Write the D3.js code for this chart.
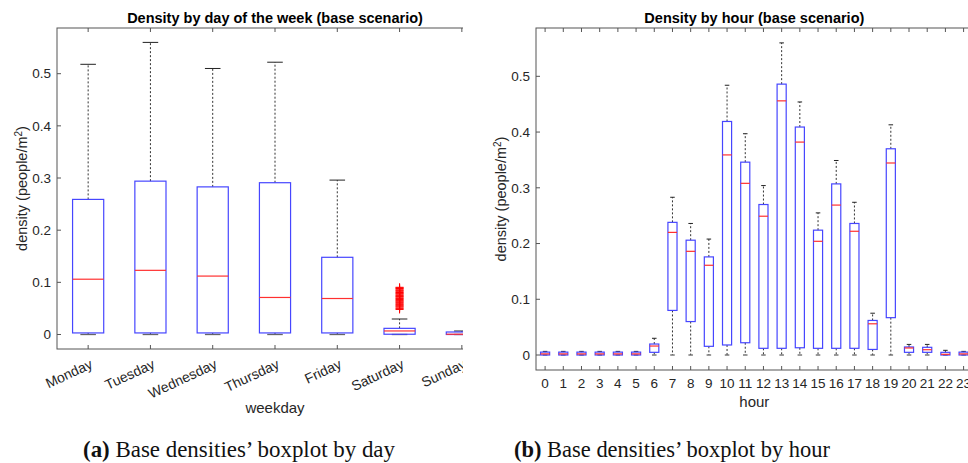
<!DOCTYPE html>
<html>
<head>
<script src="https://cdn.jsdelivr.net/npm/d3@7/dist/d3.min.js"></script>
<style>
    body{margin:0;background:#fff;}
    svg{display:block;font-family:"Liberation Sans",Arial,sans-serif;}
</style>
</head>
<body>
<div id="chart"></div>
<script>

// day of the week boxplot
var days = ["Monday","Tuesday","Wednesday","Thursday","Friday","Saturday","Sunday"]
var dayLow = [0,0,0,0,0,0,0]
var dayQ1 = [0.003,0.003,0.003,0.003,0.003,0.0005,0]
var dayMedian = [0.106,0.123,0.112,0.071,0.069,0.0068,0.0005]
var dayQ3 = [0.259,0.294,0.283,0.291,0.148,0.0118,0.0048]
var dayHigh = [0.518,0.560,0.510,0.522,0.296,0.0297,0.0067]
var saturdayOutliers = [0.048,0.0495,0.051,0.053,0.0545,0.056,0.0578,0.059,0.061,0.0625,0.064,0.0655,0.067,
    0.0688,0.070,0.0718,0.073,0.0745,0.076,0.0778,0.079,0.0805,0.082,0.0838,0.085,0.0868,0.0882,0.0895,0.0905]

// hour boxplot
var hours = ["0","1","2","3","4","5","6","7","8","9","10","11","12","13","14","15","16","17","18","19","20","21","22","23"]
var hourLow = [0,0,0,0,0,0,0,0,0,0,0,0,0,0,0,0,0,0,0,0,0,0,0,0]
var hourQ1 = [0,0,0,0,0,0,0.0048,0.080,0.060,0.0156,0.018,0.022,0.012,0.012,0.013,0.012,0.012,0.012,0.010,0.067,0.0048,0.0048,0,0]
var hourMedian = [0.002,0.002,0.002,0.002,0.002,0.002,0.0161,0.220,0.186,0.161,0.359,0.308,0.249,0.456,0.382,0.204,0.269,0.222,0.056,0.3445,0.0126,0.0095,0.0013,0.002]
var hourQ3 = [0.0052,0.0052,0.0052,0.0052,0.0052,0.0052,0.0197,0.238,0.206,0.176,0.419,0.346,0.270,0.486,0.409,0.224,0.307,0.236,0.062,0.370,0.0144,0.0138,0.0048,0.0052]
var hourHigh = [0.0065,0.0065,0.0065,0.0065,0.0065,0.0065,0.030,0.283,0.236,0.208,0.484,0.397,0.304,0.560,0.454,0.255,0.349,0.274,0.075,0.413,0.019,0.019,0.0084,0.0065]

var yTicks = [0,0.1,0.2,0.3,0.4,0.5]
var boxColor = "#4646ff"
var medColor = "#ff3030"
var axisColor = "#555"
var textColor = "#262626"

var svg = d3.select("#chart").append("svg")
    .attr("width",968).attr("height",463)

svg.append("defs").append("clipPath").attr("id","clipLeft")
    .append("rect").attr("x",0).attr("y",0).attr("width",463).attr("height",430)

function makeRows(names,low,q1,med,q3,high){
    return names.map(function(n,i){
        return {name:n,pos:i,low:low[i],q1:q1[i],med:med[i],q3:q3[i],high:high[i]}
    })
}

function drawPanel(g,rows,x,y,opts){
    var x0 = x.range()[0], x1 = x.range()[1]
    var y0 = y.range()[0], y1 = y.range()[1]
    var unit = Math.abs(x(1)-x(0))
    var boxW = unit*0.5
    var capW = unit*0.25

    // frame
    g.append("rect").attr("x",x0).attr("y",y1).attr("width",x1-x0).attr("height",y0-y1)
        .attr("fill","none").attr("stroke",axisColor).attr("stroke-width",1)

    // x ticks bottom and top (inward)
    rows.forEach(function(d){
        g.append("line").attr("x1",x(d.pos)).attr("x2",x(d.pos)).attr("y1",y0).attr("y2",y0-4)
            .attr("stroke",axisColor)
        g.append("line").attr("x1",x(d.pos)).attr("x2",x(d.pos)).attr("y1",y1).attr("y2",y1+4)
            .attr("stroke",axisColor)
    })
    // y ticks left and right
    yTicks.forEach(function(t){
        g.append("line").attr("x1",x0).attr("x2",x0+4).attr("y1",y(t)).attr("y2",y(t)).attr("stroke",axisColor)
        g.append("line").attr("x1",x1).attr("x2",x1-4).attr("y1",y(t)).attr("y2",y(t)).attr("stroke",axisColor)
        g.append("text").attr("x",x0-6).attr("y",y(t)).attr("dy","0.35em")
            .attr("text-anchor","end").attr("font-size",13.5).attr("fill",textColor)
            .text(t===0?"0":d3.format(".1f")(t))
    })

    var b = g.selectAll(".bx").data(rows).enter().append("g").attr("class","bx")

    // whiskers
    b.append("line").attr("x1",function(d){return x(d.pos)}).attr("x2",function(d){return x(d.pos)})
        .attr("y1",function(d){return y(d.q3)}).attr("y2",function(d){return y(d.high)})
        .attr("stroke","#333").attr("stroke-dasharray","2,2")
    b.append("line").attr("x1",function(d){return x(d.pos)}).attr("x2",function(d){return x(d.pos)})
        .attr("y1",function(d){return y(d.q1)}).attr("y2",function(d){return y(d.low)})
        .attr("stroke","#333").attr("stroke-dasharray","2,2")
    // caps
    b.append("line").attr("x1",function(d){return x(d.pos)-capW/2}).attr("x2",function(d){return x(d.pos)+capW/2})
        .attr("y1",function(d){return y(d.high)}).attr("y2",function(d){return y(d.high)})
        .attr("stroke","#222")
    b.append("line").attr("x1",function(d){return x(d.pos)-capW/2}).attr("x2",function(d){return x(d.pos)+capW/2})
        .attr("y1",function(d){return y(d.low)}).attr("y2",function(d){return y(d.low)})
        .attr("stroke","#666").attr("stroke-width",1.3)
    // box
    b.append("rect").attr("x",function(d){return x(d.pos)-boxW/2}).attr("width",boxW)
        .attr("y",function(d){return y(d.q3)})
        .attr("height",function(d){return Math.max(0.5,y(d.q1)-y(d.q3))})
        .attr("fill","none").attr("stroke",boxColor).attr("stroke-width",1.2)
    // median
    b.append("line").attr("x1",function(d){return x(d.pos)-boxW/2}).attr("x2",function(d){return x(d.pos)+boxW/2})
        .attr("y1",function(d){return y(d.med)}).attr("y2",function(d){return y(d.med)})
        .attr("stroke",medColor).attr("stroke-width",1.2)

    // title
    g.append("text").attr("x",(x0+x1)/2).attr("y",23).attr("text-anchor","middle")
        .attr("font-size",14.5).attr("font-weight","bold").attr("fill","#000").text(opts.title)
    // x label
    g.append("text").attr("x",(x0+x1)/2).attr("y",opts.xLabelY).attr("text-anchor","middle")
        .attr("font-size",15).attr("fill",textColor).text(opts.xLabel)
    // y label
    var yl = g.append("text").attr("transform","translate("+opts.yLabelX+","+((y0+y1)/2)+") rotate(-90)")
        .attr("text-anchor","middle").attr("font-size",14.5).attr("fill",textColor)
    yl.append("tspan").text("density (people/m")
    yl.append("tspan").attr("baseline-shift","super").attr("font-size",10).text("2")
    yl.append("tspan").text(")")
}

// ---- left panel: by day
var left = svg.append("g").attr("clip-path","url(#clipLeft)")
var xL = d3.scaleLinear().domain([-0.5,6.5]).range([57,493])
var yL = d3.scaleLinear().domain([-0.0278,0.5876]).range([349,28])
var dayRows = makeRows(days,dayLow,dayQ1,dayMedian,dayQ3,dayHigh)
drawPanel(left,dayRows,xL,yL,{title:"Density by day of the week (base scenario)",xLabel:"weekday",xLabelY:413,yLabelX:27})

// saturday outliers as red plus markers
left.selectAll(".out").data(saturdayOutliers).enter().append("path").attr("class","out")
    .attr("d",function(v){
        var cx = xL(days.indexOf("Saturday")), cy = yL(v)
        return "M"+(cx-4)+","+cy+"H"+(cx+4)+"M"+cx+","+(cy-4)+"V"+(cy+4)
    })
    .attr("stroke","#ff0000").attr("stroke-width",1).attr("fill","none")

// rotated day labels
dayRows.forEach(function(d){
    left.append("text").attr("transform","translate("+(xL(d.pos)+1)+",358) rotate(-25)")
        .attr("text-anchor","end").attr("dy","0.75em").attr("font-size",14).attr("fill",textColor)
        .text(d.name)
})

// ---- right panel: by hour
var right = svg.append("g")
var xR = d3.scaleLinear().domain([-0.5,23.5]).range([536,972.7])
var yR = d3.scaleLinear().domain([-0.0269,0.5867]).range([370,28])
var hourRows = makeRows(hours,hourLow,hourQ1,hourMedian,hourQ3,hourHigh)
drawPanel(right,hourRows,xR,yR,{title:"Density by hour (base scenario)",xLabel:"hour",xLabelY:407,yLabelX:506})

hourRows.forEach(function(d){
    right.append("text").attr("x",xR(d.pos)).attr("y",388).attr("text-anchor","middle")
        .attr("font-size",13.5).attr("fill",textColor).text(d.name)
})

// captions
var capFont = "'Liberation Serif','DejaVu Serif',serif"
var capA = svg.append("text").attr("x",83).attr("y",457).attr("font-family",capFont)
    .attr("font-size",24).attr("fill","#111").attr("textLength",312).attr("lengthAdjust","spacingAndGlyphs")
capA.append("tspan").attr("font-weight","bold").text("(a)")
capA.append("tspan").text(" Base densities\u2019 boxplot by day")
var capB = svg.append("text").attr("x",514).attr("y",457).attr("font-family",capFont)
    .attr("font-size",24).attr("fill","#111").attr("textLength",316).attr("lengthAdjust","spacingAndGlyphs")
capB.append("tspan").attr("font-weight","bold").text("(b)")
capB.append("tspan").text(" Base densities\u2019 boxplot by hour")

</script>
</body>
</html>
